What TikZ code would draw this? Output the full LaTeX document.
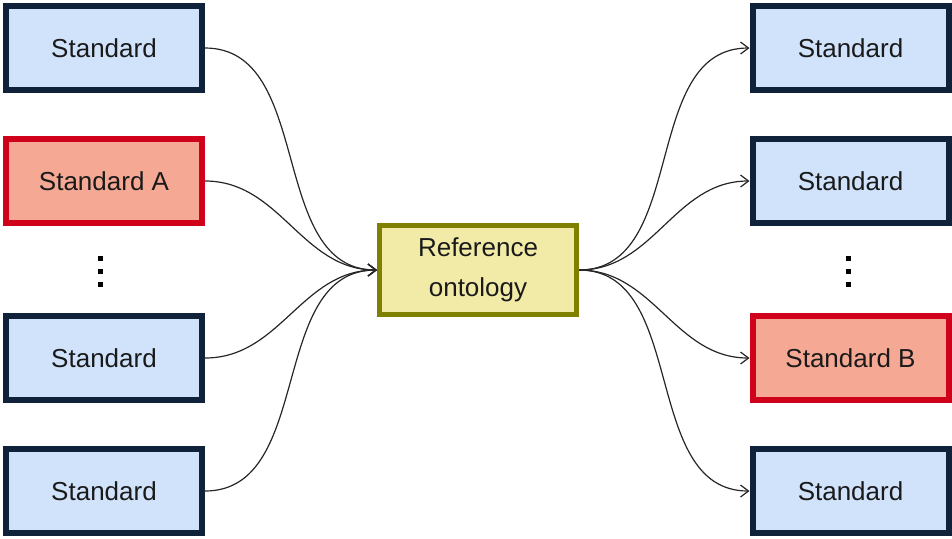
\documentclass[tikz,border=0pt]{standalone}
\usepackage{fontspec}
\setmainfont{Liberation Sans}
\usetikzlibrary{arrows.meta}
\definecolor{stdfill}{HTML}{D0E3FB}
\definecolor{stdline}{HTML}{10213A}
\definecolor{hifill}{HTML}{F5A893}
\definecolor{hiline}{HTML}{D0021B}
\definecolor{reffill}{HTML}{F2EBA8}
\definecolor{refline}{HTML}{7F7F00}
\definecolor{txt}{HTML}{1A1A1A}
\tikzset{
  stdbox/.style={draw=stdline, fill=stdfill, line width=3pt, minimum width=98pt,
    minimum height=42pt, inner sep=0pt, text=txt, font=\fontsize{13}{16}\selectfont},
  hibox/.style={stdbox, draw=hiline, fill=hifill},
  refbox/.style={draw=refline, fill=reffill, line width=2.5pt, minimum width=98.5pt,
    minimum height=44.5pt, inner sep=0pt, text=txt, align=center,
    font=\fontsize{13}{20}\selectfont},
  link/.style={line width=0.6pt, draw=black!85, -{Straight Barb[length=4pt,width=6pt]},
    out=0, in=180},
  vdot/.style={rectangle, fill=black, inner sep=0pt, minimum size=2.5pt}
}
\begin{document}
\begin{tikzpicture}[x=0.5pt,y=-0.5pt]
  \useasboundingbox (0,0) rectangle (952,538);

  % source standards
  \node[stdbox] (l1) at (104,48) {Standard};
  \node[hibox]  (l2) at (104,181) {Standard A};
  \node[stdbox] (l3) at (104,358) {Standard};
  \node[stdbox] (l4) at (104,491) {Standard};

  % target standards
  \node[stdbox] (r1) at (850.5,48) {Standard};
  \node[stdbox] (r2) at (850.5,181) {Standard};
  \node[hibox]  (r3) at (850.5,358) {Standard B};
  \node[stdbox] (r4) at (850.5,491) {Standard};

  % central ontology
  \node[refbox] (ref) at (478,270) {\raisebox{-1.5pt}{Reference}\\\raisebox{-1.5pt}{ontology}};

  % ellipsis marks
  \foreach \side/\x in {l/100, r/848}{
    \node[vdot] (\side d1) at (\x,258) {};
    \node[vdot] (\side d2) at (\x,271) {};
    \node[vdot] (\side d3) at (\x,284) {};
  }

  % mappings into the reference ontology
  \foreach \n in {l1,l2,l3,l4}
    \draw[link] (\n.east) to (ref.west);

  % mappings out of the reference ontology
  \foreach \n in {r1,r2,r3,r4}
    \draw[link] (ref.east) to (\n.west);
\end{tikzpicture}
\end{document}
